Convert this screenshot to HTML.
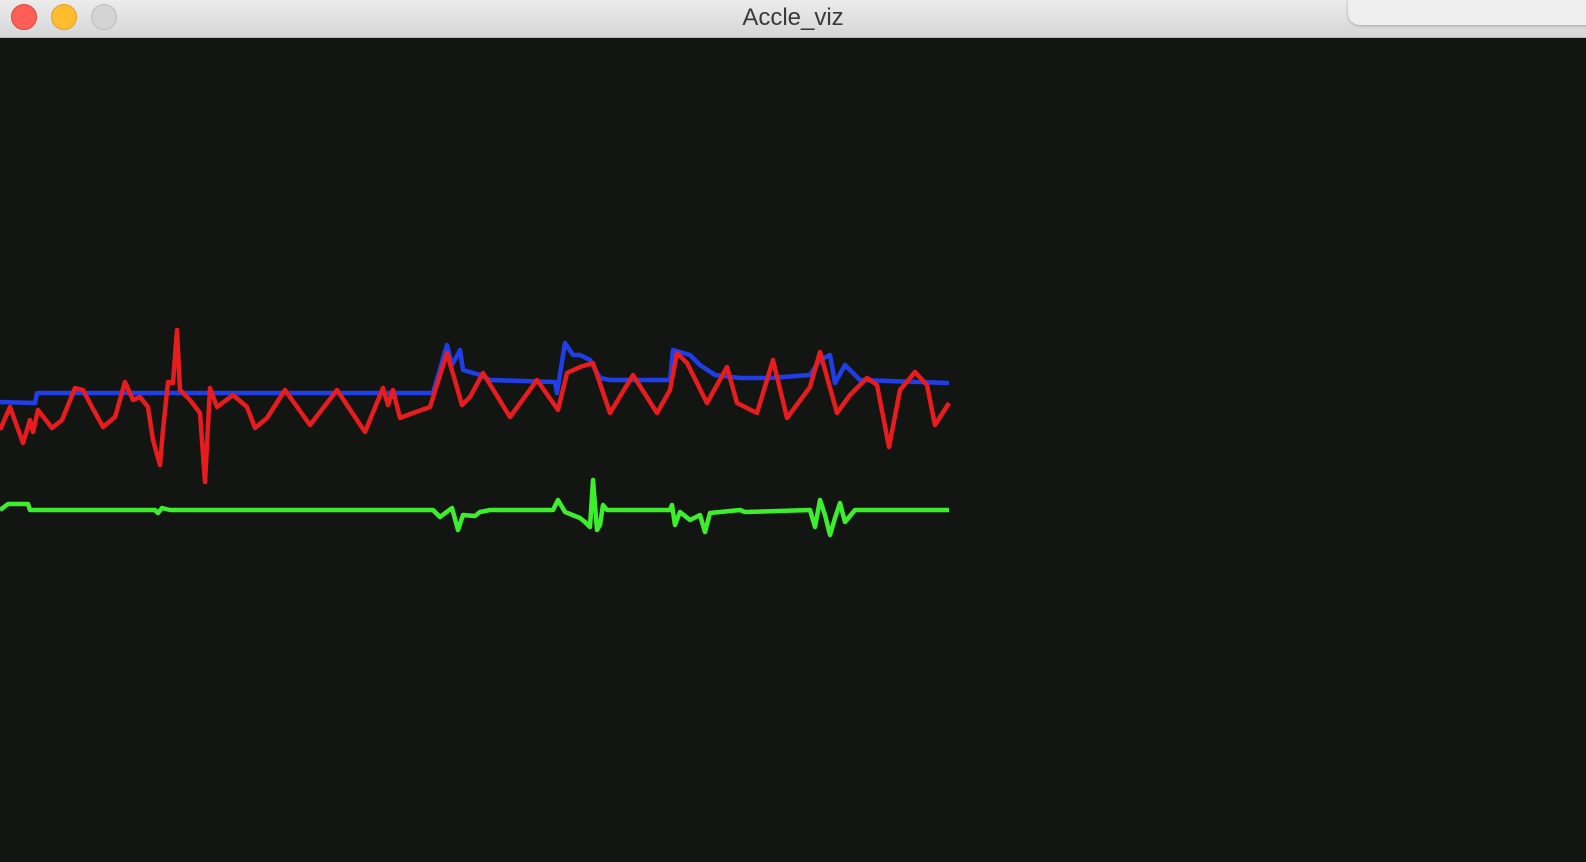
<!DOCTYPE html>
<html><head><meta charset="utf-8"><style>
html,body{margin:0;padding:0;width:1586px;height:862px;overflow:hidden;background:#131513;font-family:"Liberation Sans",sans-serif}
#titlebar{position:absolute;left:0;top:0;width:1586px;height:37px;background:linear-gradient(#ececec,#d6d6d6);border-bottom:1px solid #b8b8b8}
.light{position:absolute;top:4px;width:24px;height:24px;border-radius:50%}
#title{position:absolute;left:0;width:1586px;top:4px;text-align:center;font-size:24px;color:#3a3a3a}
#popup{position:absolute;left:1348px;top:-10px;width:260px;height:35px;background:#efefef;border-radius:12px;box-shadow:0 1px 3px rgba(0,0,0,.25)}
svg{position:absolute;left:0;top:38px}
</style></head><body>
<div id="titlebar">
<div class="light" style="left:11px;background:#fd5f57;border:1px solid #e0443e"></div>
<div class="light" style="left:51px;background:#febc2e;border:1px solid #dea123"></div>
<div class="light" style="left:91px;background:#d4d4d4;border:1px solid #bdbdbd"></div>
<div id="title">Accle_viz</div>
<div id="popup"></div>
</div>
<svg id="chart" width="1586" height="824"></svg>
<script>
// sample times and accelerometer values (v = 450 - screen y)
const redT=[0,10,23,30,33,38,52,62,75,83,92,103,115,125,133,140,148,153,160,163,168,173,177,180,190,200,205,210,217,233,247,255,267,285,310,337,365,383,388,393,400,413,430,447,462,470,483,510,537,558,567,580,593,610,633,657,670,677,687,707,727,737,757,773,787,810,820,837,850,867,877,889,900,915,927,935,949];
const redV=[20,43,7,30,18,40,22,30,62,60,43,23,33,68,50,53,43,10,-15,20,68,67,120,60,50,37,-32,62,43,55,43,22,32,60,25,60,18,62,45,60,32,37,43,97,45,53,77,33,70,40,77,83,87,37,75,37,60,97,87,47,83,47,37,90,32,63,98,37,55,72,65,3,60,78,65,25,47];
const blueT=[0,35,37,433,447,452,460,463,480,490,555,557,565,573,580,590,600,610,670,673,690,700,715,740,770,810,820,830,835,845,855,860,949];
const blueV=[48,47,57,57,105,85,100,80,75,70,68,57,107,95,95,90,72,70,70,100,95,85,75,72,72,75,90,95,67,85,75,70,67];
const greenT=[0,8,28,30,155,158,162,170,340,433,440,452,458,463,475,480,490,553,558,565,580,585,590,593,597,600,603,607,670,672,675,680,690,700,705,710,740,745,810,815,820,825,830,835,840,845,855,949];
const greenV=[-60,-54,-54,-60,-60,-63,-58,-60,-60,-60,-67,-58,-80,-65,-66,-62,-60,-60,-50,-62,-68,-72,-77,-30,-80,-75,-55,-60,-60,-55,-75,-62,-70,-65,-82,-63,-60,-62,-60,-77,-50,-65,-85,-68,-53,-72,-60,-60];
const seriesColors=['#e81c1c','#1f3ee8','#3cee2c'];

const xScale=t=>t*1.0;
const yScale=v=>(450-v)-38;
const svg=document.getElementById('chart');
function draw(T,V,color,name){
  const p=document.createElementNS('http://www.w3.org/2000/svg','polyline');
  p.setAttribute('points',T.map((t,i)=>xScale(t)+','+yScale(V[i])).join(' '));
  p.setAttribute('fill','none');p.setAttribute('stroke',color);
  p.setAttribute('stroke-width','4.5');p.setAttribute('stroke-linejoin','round');
  
  
  svg.appendChild(p);
}
draw(greenT,greenV,seriesColors[2],'z-axis-line');
draw(blueT,blueV,seriesColors[1],'y-axis-line');
draw(redT,redV,seriesColors[0],'x-axis-line');
</script>
</body></html>
